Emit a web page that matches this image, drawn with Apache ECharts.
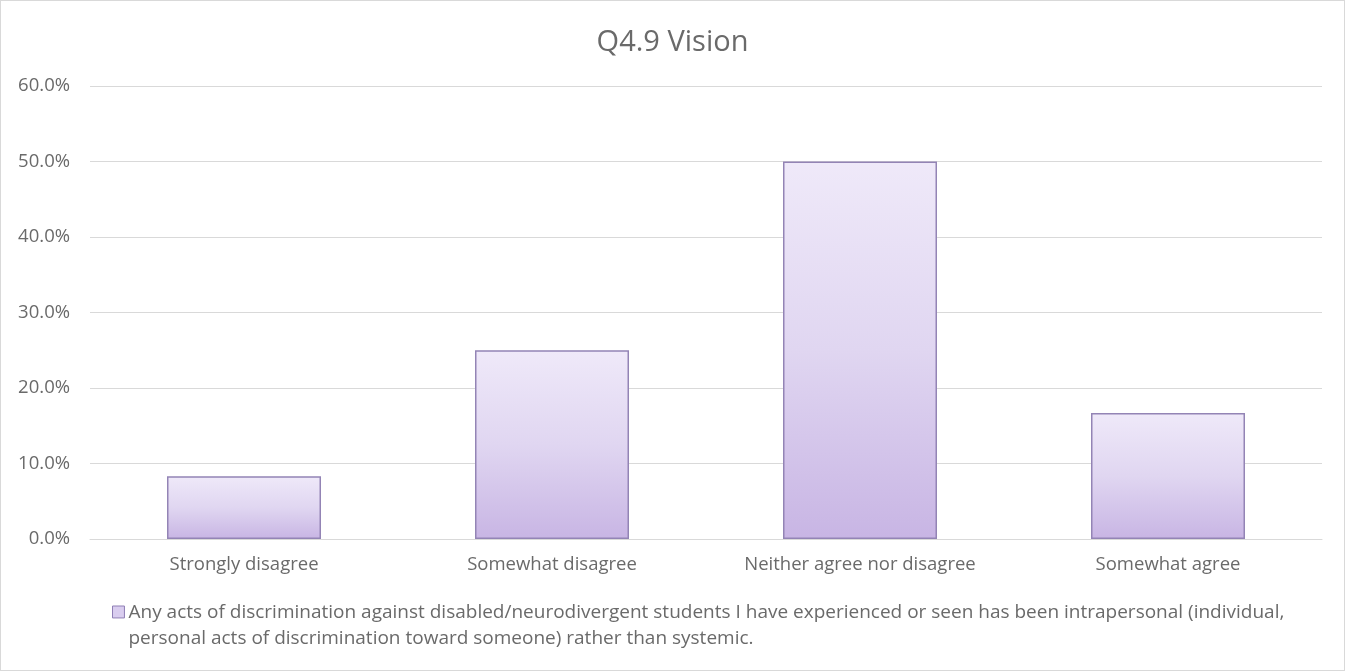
<!DOCTYPE html>
<html>
<head>
<meta charset="utf-8">
<script src="https://cdn.jsdelivr.net/npm/echarts@6/dist/echarts.min.js"></script>
<style>
  html, body { margin: 0; padding: 0; background: #fff; }
  #chart { width: 1343px; height: 669px; border: 1px solid #d9d9d9; }
</style>
</head>
<body>
<div id="chart"></div>
<script>
// Survey responses for Q4.9 (share of respondents)
const categories = ['Strongly disagree', 'Somewhat disagree', 'Neither agree nor disagree', 'Somewhat agree'];
const seriesName = 'Any acts of discrimination against disabled/neurodivergent students I have experienced or seen has been intrapersonal (individual, personal acts of discrimination toward someone) rather than systemic.';
const values = [8.3, 25.0, 50.0, 16.7];
const titleText = 'Q4.9 Vision';

const chart = echarts.init(document.getElementById('chart'));
const fontFamily = '"Open Sans", "Liberation Sans", sans-serif';
const textColor = '#6a6a6a';

// Legend swatch sits beside the first line of the wrapped legend text:
// a square plus an invisible point further down keeps it top-aligned.
const legendIcon = 'path://M0,0L10,0L10,10L0,10Z M0,33.5L0,33.5';

chart.setOption({
  animation: false,
  title: {
    text: titleText,
    left: 'center',
    top: 22,
    textStyle: { color: textColor, fontSize: 29, fontWeight: 'normal', fontFamily }
  },
  grid: { left: 89, right: 22, top: 85, bottom: 131 },
  xAxis: {
    type: 'category',
    data: categories,
    axisLine: { lineStyle: { color: '#d9d9d9', width: 1 } },
    axisTick: { show: false },
    axisLabel: { color: textColor, fontSize: 18.5, fontFamily, margin: 16 }
  },
  yAxis: {
    type: 'value',
    min: 0,
    max: 60,
    interval: 10,
    axisLine: { show: false },
    axisTick: { show: false },
    splitLine: { lineStyle: { color: '#d9d9d9', width: 1 } },
    axisLabel: {
      color: textColor, fontSize: 18.5, fontFamily, margin: 20,
      formatter: v => v.toFixed(1) + '%'
    }
  },
  legend: {
    left: 106,
    top: 594,
    itemWidth: 12,
    itemHeight: 40,
    itemGap: 0,
    icon: legendIcon,
    textStyle: {
      color: textColor, fontSize: 19, fontFamily, padding: [0, 0, 0, -1],
      width: 1175, overflow: 'break', lineHeight: 26
    },
    data: [{ name: seriesName, itemStyle: { color: '#d9cdef', borderColor: '#8f7fb5', borderWidth: 1 } }]
  },
  series: [{
    name: seriesName,
    type: 'bar',
    data: values,
    barWidth: '50%',
    itemStyle: {
      color: new echarts.graphic.LinearGradient(0, 0, 0, 1, [
        { offset: 0, color: '#efe9f9' },
        { offset: 0.5, color: '#e0d6f1' },
        { offset: 1, color: '#c8b5e4' }
      ]),
      borderColor: '#9384b5',
      borderWidth: 1.5
    }
  }]
});
</script>
</body>
</html>
